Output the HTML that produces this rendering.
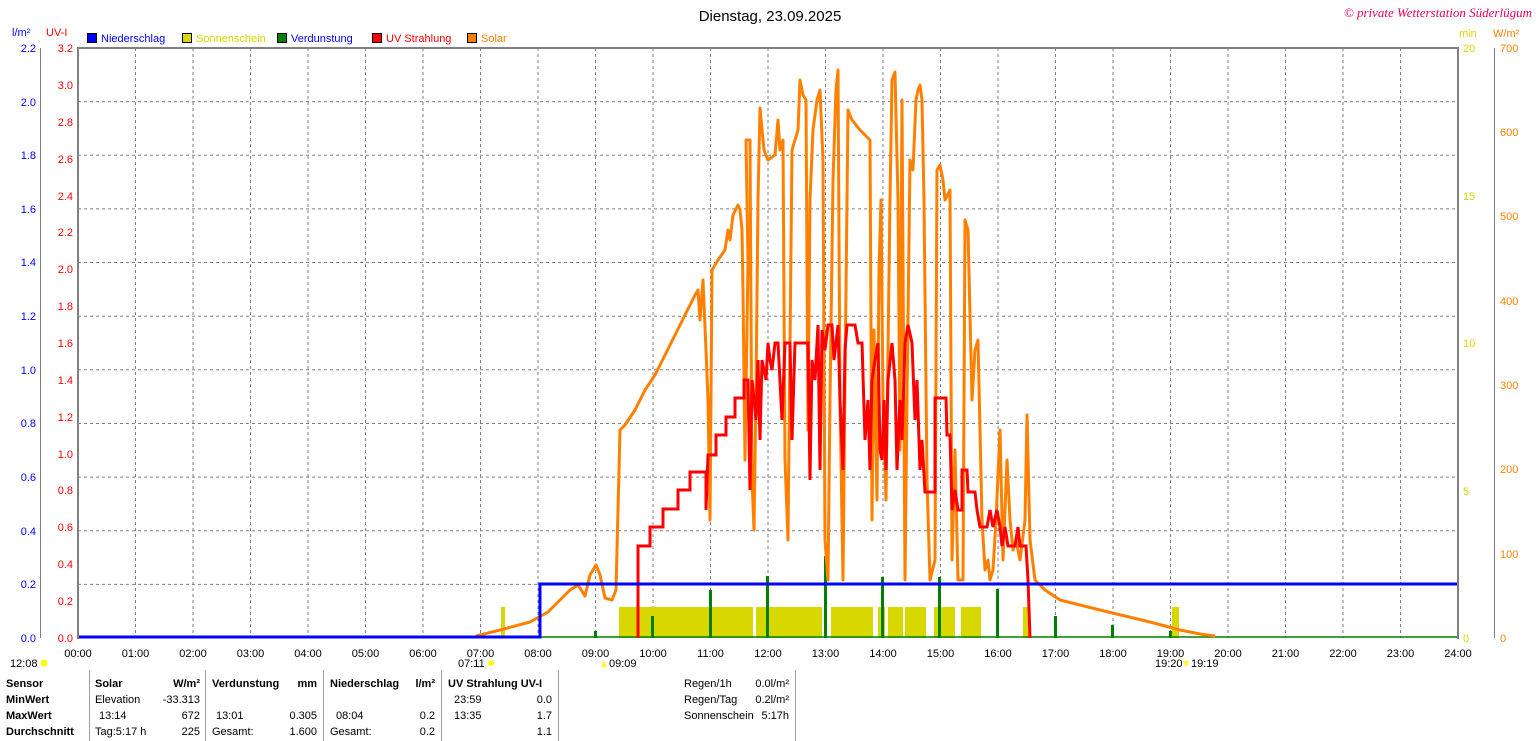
<!DOCTYPE html>
<html><head><meta charset="utf-8"><style>
body{margin:0;background:#fff;width:1536px;height:741px;overflow:hidden;font-family:"Liberation Sans",sans-serif}
svg{display:block}
text{font-family:"Liberation Sans",sans-serif;font-size:11px}
</style></head><body>
<svg width="1536" height="741" xmlns="http://www.w3.org/2000/svg">
<text x="770" y="21" text-anchor="middle" style="font-size:15px" fill="#000">Dienstag, 23.09.2025</text>
<text x="1532" y="17" text-anchor="end" fill="#e8005a" style="font-size:13px;font-style:italic;font-family:'Liberation Serif',serif">© private Wetterstation Süderlügum</text>
<g stroke="#000" stroke-width="1">
<rect x="87.5" y="33.5" width="9" height="9" fill="#0000ff"/>
<rect x="182.5" y="33.5" width="9" height="9" fill="#d8d800"/>
<rect x="277.5" y="33.5" width="9" height="9" fill="#008000"/>
<rect x="372.5" y="33.5" width="9" height="9" fill="#ff0000"/>
<rect x="467.5" y="33.5" width="9" height="9" fill="#ff8000"/>
</g>
<text x="101" y="42" fill="#0000ff">Niederschlag</text>
<text x="196" y="42" fill="#d8d800">Sonnenschein</text>
<text x="291" y="42" fill="#0000ff">Verdunstung</text>
<text x="386" y="42" fill="#ff0000">UV Strahlung</text>
<text x="481" y="42" fill="#ff8000">Solar</text>
<text x="12" y="36" fill="#0000ff">l/m²</text>
<text x="46" y="36" fill="#ff0000">UV-I</text>
<text x="1459" y="37" fill="#d8d800">min</text>
<text x="1493" y="37" fill="#ff8000">W/m²</text>
<g stroke="#808080" stroke-width="1" stroke-dasharray="3,3">
<line x1="78" y1="101.6" x2="1458" y2="101.6"/><line x1="78" y1="155.3" x2="1458" y2="155.3"/>
<line x1="78" y1="208.9" x2="1458" y2="208.9"/><line x1="78" y1="262.5" x2="1458" y2="262.5"/>
<line x1="78" y1="316.2" x2="1458" y2="316.2"/><line x1="78" y1="369.8" x2="1458" y2="369.8"/>
<line x1="78" y1="423.5" x2="1458" y2="423.5"/><line x1="78" y1="477.1" x2="1458" y2="477.1"/>
<line x1="78" y1="530.7" x2="1458" y2="530.7"/><line x1="78" y1="584.4" x2="1458" y2="584.4"/>
<line x1="135.5" y1="48" x2="135.5" y2="638"/><line x1="193" y1="48" x2="193" y2="638"/><line x1="250.5" y1="48" x2="250.5" y2="638"/><line x1="308" y1="48" x2="308" y2="638"/><line x1="365.5" y1="48" x2="365.5" y2="638"/><line x1="423" y1="48" x2="423" y2="638"/><line x1="480.5" y1="48" x2="480.5" y2="638"/><line x1="538" y1="48" x2="538" y2="638"/><line x1="595.5" y1="48" x2="595.5" y2="638"/><line x1="653" y1="48" x2="653" y2="638"/><line x1="710.5" y1="48" x2="710.5" y2="638"/><line x1="768" y1="48" x2="768" y2="638"/><line x1="825.5" y1="48" x2="825.5" y2="638"/><line x1="883" y1="48" x2="883" y2="638"/><line x1="940.5" y1="48" x2="940.5" y2="638"/><line x1="998" y1="48" x2="998" y2="638"/><line x1="1055.5" y1="48" x2="1055.5" y2="638"/><line x1="1113" y1="48" x2="1113" y2="638"/><line x1="1170.5" y1="48" x2="1170.5" y2="638"/><line x1="1228" y1="48" x2="1228" y2="638"/><line x1="1285.5" y1="48" x2="1285.5" y2="638"/><line x1="1343" y1="48" x2="1343" y2="638"/><line x1="1400.5" y1="48" x2="1400.5" y2="638"/>
</g>
<g fill="#d8d800">
<rect x="501" y="607" width="4" height="31"/><rect x="619" y="607" width="134" height="31"/><rect x="756" y="607" width="66" height="31"/><rect x="831" y="607" width="42" height="31"/><rect x="878" y="607" width="7" height="31"/><rect x="888" y="607" width="15" height="31"/><rect x="905" y="607" width="21" height="31"/><rect x="934" y="607" width="21" height="31"/><rect x="961" y="607" width="20" height="31"/><rect x="1023" y="607" width="6" height="31"/><rect x="1172" y="607" width="7" height="31"/>
</g>
<g fill="#008000">
<rect x="594" y="631" width="3" height="7"/><rect x="651" y="616" width="3" height="22"/><rect x="709" y="590" width="3" height="48"/><rect x="766" y="576" width="3" height="62"/><rect x="824" y="556" width="3" height="82"/><rect x="881" y="577" width="3" height="61"/><rect x="938" y="577" width="3" height="61"/><rect x="996" y="589" width="3" height="49"/><rect x="1054" y="616" width="3" height="22"/><rect x="1111" y="625" width="3" height="13"/><rect x="1169" y="631" width="3" height="7"/>
</g>
<line x1="540" y1="637" x2="1458" y2="637" stroke="#008000" stroke-width="1.5"/>
<polyline fill="none" stroke="#ff8000" stroke-width="3" stroke-linejoin="round" points="476,636 500,630 530,622 548,612 560,600 570,590 578,585 585,596 590,575 596,565 600,575 605,598 612,600 616,590 620,430 625,425 635,410 645,390 655,375 665,355 675,335 685,315 695,295 698,290 700,320 703,280 706,350 708,400 710,520 712,270 718,260 725,250 728,230 730,240 733,215 738,205 740,210 742,230 743,290 745,460 748,260 746,140 750,140 752,480 754,530 756,390 758,200 760,108 764,150 768,160 775,155 778,120 780,150 783,140 785,460 788,540 792,150 798,130 800,80 803,95 806,100 808,430 810,200 813,130 817,100 820,90 823,160 825,540 828,580 830,400 833,180 836,90 838,70 840,400 843,580 845,380 848,110 852,120 860,130 870,140 872,520 874,330 877,500 879,270 881,200 883,400 886,500 890,200 892,80 895,72 898,200 900,450 902,100 905,580 907,400 910,160 913,170 916,100 918,90 920,85 922,100 924,200 927,480 930,580 935,560 937,170 940,165 943,180 945,200 950,190 952,560 955,450 958,580 963,580 965,220 968,230 972,400 975,350 978,340 982,520 985,570 988,560 990,580 993,570 996,520 1000,430 1003,560 1007,460 1010,520 1013,550 1016,540 1020,560 1025,520 1027,415 1030,540 1035,580 1045,590 1060,600 1100,610 1150,622 1180,630 1200,634 1215,636"/>
<polyline fill="none" stroke="#ff0000" stroke-width="3" points="638,638 638,546 650,546 650,527 663,527 663,509 678,509 678,490 690,490 690,472 706,472 706,510 708,455 716,455 716,435 726,435 726,417 735,417 735,398 744,398 744,380 748,380 750,490 752,380 756,420 758,360 760,440 762,360 766,380 768,343 770,360 772,370 775,343 778,343 782,420 785,343 790,343 792,440 795,343 808,343 810,480 812,360 815,380 818,325 820,470 822,330 825,350 828,325 832,325 834,360 838,325 840,400 843,470 845,350 847,325 855,325 858,343 862,343 865,440 868,400 870,470 872,380 875,360 878,343 880,450 882,460 884,400 886,470 888,380 892,343 895,380 897,470 900,400 902,440 905,343 908,325 912,343 915,420 917,380 920,470 922,440 925,492 935,492 935,398 946,398 947,435 950,435 952,510 955,490 958,510 962,510 962,470 967,470 968,492 975,492 977,510 980,527 987,527 990,510 993,527 997,510 1000,527 1002,546 1005,527 1008,546 1015,546 1018,527 1020,546 1026,546 1028,580 1030,638"/>
<polyline fill="none" stroke="#0000ff" stroke-width="3" points="78,637 540,637 540,584 1458,584"/>
<g stroke="#808080" stroke-width="2" fill="none">
<line x1="78" y1="47" x2="78" y2="639"/>
<line x1="77" y1="48" x2="1459" y2="48"/>
<line x1="1458" y1="47" x2="1458" y2="639"/>
</g>
<g stroke="#808080" stroke-width="1">
<line x1="40.5" y1="48" x2="40.5" y2="638"/>
<line x1="1494.5" y1="48" x2="1494.5" y2="638"/>
</g>
<g fill="#0000ff" text-anchor="end">
<text x="36" y="52">2.2</text><text x="36" y="106">2.0</text><text x="36" y="159">1.8</text><text x="36" y="213">1.6</text><text x="36" y="266">1.4</text><text x="36" y="320">1.2</text><text x="36" y="374">1.0</text><text x="36" y="427">0.8</text><text x="36" y="481">0.6</text><text x="36" y="535">0.4</text><text x="36" y="588">0.2</text><text x="36" y="642">0.0</text>
</g>
<g fill="#ff0000" text-anchor="end">
<text x="73" y="52">3.2</text><text x="73" y="89">3.0</text><text x="73" y="126">2.8</text><text x="73" y="163">2.6</text><text x="73" y="200">2.4</text><text x="73" y="236">2.2</text><text x="73" y="273">2.0</text><text x="73" y="310">1.8</text><text x="73" y="347">1.6</text><text x="73" y="384">1.4</text><text x="73" y="421">1.2</text><text x="73" y="458">1.0</text><text x="73" y="494">0.8</text><text x="73" y="531">0.6</text><text x="73" y="568">0.4</text><text x="73" y="605">0.2</text><text x="73" y="642">0.0</text>
</g>
<g fill="#d8d800">
<text x="1463" y="52">20</text><text x="1463" y="200">15</text><text x="1463" y="347">10</text><text x="1463" y="495">5</text><text x="1463" y="642">0</text>
</g>
<g fill="#ff8000">
<text x="1500" y="52">700</text><text x="1500" y="136">600</text><text x="1500" y="220">500</text><text x="1500" y="305">400</text><text x="1500" y="389">300</text><text x="1500" y="473">200</text><text x="1500" y="558">100</text><text x="1500" y="642">0</text>
</g>
<g fill="#000" text-anchor="middle">
<text x="78" y="657">00:00</text><text x="135.5" y="657">01:00</text><text x="193" y="657">02:00</text><text x="250.5" y="657">03:00</text><text x="308" y="657">04:00</text><text x="365.5" y="657">05:00</text><text x="423" y="657">06:00</text><text x="480.5" y="657">07:00</text><text x="538" y="657">08:00</text><text x="595.5" y="657">09:00</text><text x="653" y="657">10:00</text><text x="710.5" y="657">11:00</text><text x="768" y="657">12:00</text><text x="825.5" y="657">13:00</text><text x="883" y="657">14:00</text><text x="940.5" y="657">15:00</text><text x="998" y="657">16:00</text><text x="1055.5" y="657">17:00</text><text x="1113" y="657">18:00</text><text x="1170.5" y="657">19:00</text><text x="1228" y="657">20:00</text><text x="1285.5" y="657">21:00</text><text x="1343" y="657">22:00</text><text x="1400.5" y="657">23:00</text>
<text x="1458" y="657">24:00</text>
</g>
<text x="10" y="667">12:08</text><circle cx="44" cy="663" r="3.5" fill="#ffff00"/>
<text x="458" y="667">07:11</text><circle cx="491" cy="663" r="3" fill="#ffff00"/>
<text x="609" y="667">09:09</text><path d="M601 667 l3 -6 l3 6z" fill="#ffff00"/>
<text x="1155" y="667">19:20</text><text x="1191" y="667">19:19</text><path d="M1183 661 l3 6 l3 -6z" fill="#ffff00"/>
<g stroke="#a0a0a0" stroke-width="1">
<line x1="89.5" y1="670" x2="89.5" y2="741"/><line x1="205.5" y1="670" x2="205.5" y2="741"/><line x1="323.5" y1="670" x2="323.5" y2="741"/><line x1="441.5" y1="670" x2="441.5" y2="741"/><line x1="558.5" y1="670" x2="558.5" y2="741"/><line x1="795.5" y1="670" x2="795.5" y2="741"/>
</g>
<g fill="#000">
<text x="6" y="687" style="font-weight:bold">Sensor</text><text x="6" y="703" style="font-weight:bold">MinWert</text><text x="6" y="719" style="font-weight:bold">MaxWert</text><text x="6" y="735" style="font-weight:bold">Durchschnitt</text>
<text x="95" y="687" style="font-weight:bold">Solar</text><text x="200" y="687" text-anchor="end" style="font-weight:bold">W/m²</text>
<text x="212" y="687" style="font-weight:bold">Verdunstung</text><text x="317" y="687" text-anchor="end" style="font-weight:bold">mm</text>
<text x="330" y="687" style="font-weight:bold">Niederschlag</text><text x="435" y="687" text-anchor="end" style="font-weight:bold">l/m²</text>
<text x="448" y="687" style="font-weight:bold">UV Strahlung UV-I</text>
<text x="95" y="703">Elevation</text><text x="200" y="703" text-anchor="end">-33.313</text>
<text x="99" y="719">13:14</text><text x="200" y="719" text-anchor="end">672</text>
<text x="95" y="735">Tag:5:17 h</text><text x="200" y="735" text-anchor="end">225</text>
<text x="216" y="719">13:01</text><text x="317" y="719" text-anchor="end">0.305</text>
<text x="212" y="735">Gesamt:</text><text x="317" y="735" text-anchor="end">1.600</text>
<text x="336" y="719">08:04</text><text x="435" y="719" text-anchor="end">0.2</text>
<text x="330" y="735">Gesamt:</text><text x="435" y="735" text-anchor="end">0.2</text>
<text x="454" y="703">23:59</text><text x="552" y="703" text-anchor="end">0.0</text>
<text x="454" y="719">13:35</text><text x="552" y="719" text-anchor="end">1.7</text>
<text x="552" y="735" text-anchor="end">1.1</text>
<text x="684" y="687">Regen/1h</text><text x="789" y="687" text-anchor="end">0.0l/m²</text>
<text x="684" y="703">Regen/Tag</text><text x="789" y="703" text-anchor="end">0.2l/m²</text>
<text x="684" y="719">Sonnenschein</text><text x="789" y="719" text-anchor="end">5:17h</text>
</g>
</svg>
</body></html>
